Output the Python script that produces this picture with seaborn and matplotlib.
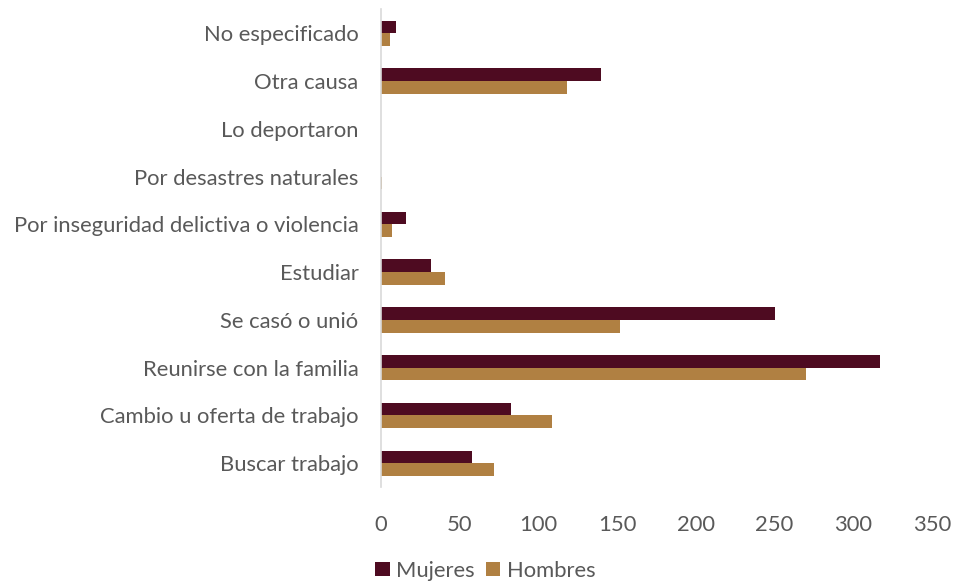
import matplotlib.pyplot as plt
import pandas as pd
import seaborn as sns

# Data (top to bottom)
causas = [
    'No especificado',
    'Otra causa',
    'Lo deportaron',
    'Por desastres naturales',
    'Por inseguridad delictiva o violencia',
    'Estudiar',
    'Se casó o unió',
    'Reunirse con la familia',
    'Cambio u oferta de trabajo',
    'Buscar trabajo',
]
mujeres = [10, 140, 0, 0, 16, 32, 250, 317, 83, 58]
hombres = [6, 118, 0, 1, 7, 41, 152, 270, 109, 72]
series = ['Mujeres', 'Hombres']
x_ticks = [0, 50, 100, 150, 200, 250, 300, 350]

colors = ['#4E0B21', '#B08042']
text_grey = '#595959'

sns.set_style("white")
plt.rcParams['font.family'] = ['Lato', 'DejaVu Sans']

df = pd.DataFrame({
    'Causa': causas * 2,
    'Valor': mujeres + hombres,
    'Sexo': [series[0]] * len(causas) + [series[1]] * len(causas),
})

fig = plt.figure(figsize=(9.54, 5.84), dpi=100)
ax = fig.add_axes([0.399, 0.166, 0.578, 0.818])

sns.barplot(data=df, x='Valor', y='Causa', hue='Sexo', order=causas,
            hue_order=series, palette=colors, width=0.53, ax=ax,
            edgecolor='none', saturation=1)

ax.set_xlim(0, 350)
ax.set_xticks(x_ticks)
ax.set_xlabel('')
ax.set_ylabel('')
for s in ['top', 'right', 'bottom']:
    ax.spines[s].set_visible(False)
ax.spines['left'].set_color('#D9D9D9')
ax.spines['left'].set_linewidth(1.2)
ax.tick_params(axis='x', length=0, pad=20, labelsize=15.8, labelcolor=text_grey)
ax.tick_params(axis='y', length=0, pad=16, labelsize=15.8, labelcolor=text_grey)

ax.legend(loc='center', bbox_to_anchor=(0.19, -0.175), ncol=2, frameon=False,
          fontsize=15.8, labelcolor=text_grey, handlelength=0.65, handleheight=0.65,
          handletextpad=0.3, borderpad=0.2, columnspacing=0.5)

plt.savefig('out.png', dpi=100)
